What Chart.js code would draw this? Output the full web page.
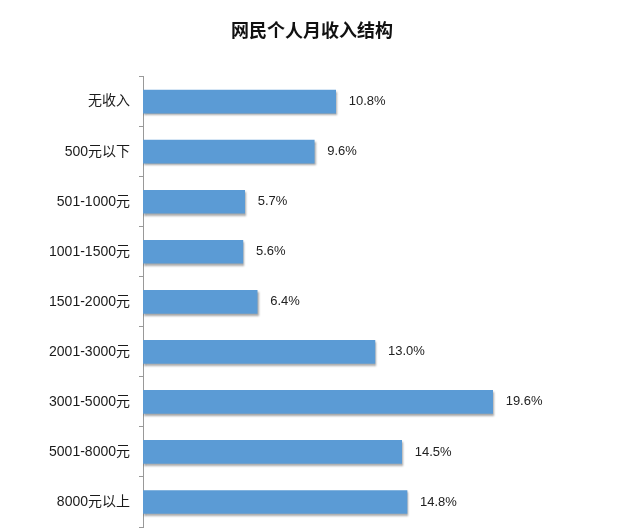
<!DOCTYPE html>
<html>
<head>
<meta charset="utf-8">
<script src="https://cdn.jsdelivr.net/npm/chart.js@4.4.1/dist/chart.umd.min.js"></script>
<style>
    html, body { margin: 0; padding: 0; background: #ffffff; }
    #wrap { width: 640px; height: 530px; position: relative; }
</style>
</head>
<body>
<div id="wrap"><canvas id="incomeChart"></canvas></div>
<script>
// Data
const categories = ['无收入', '500元以下', '501-1000元', '1001-1500元', '1501-2000元',
                    '2001-3000元', '3001-5000元', '5001-8000元', '8000元以上'];
const shares = [10.8, 9.6, 5.7, 5.6, 6.4, 13.0, 19.6, 14.5, 14.8];
const chartTitle = '网民个人月收入结构';

const fontFamily = '"Liberation Sans", Arial, "Noto Sans CJK SC", sans-serif';

// Soft drop shadow under the bars, then the value labels at bar ends
const barDecor = {
    id: 'barDecor',
    beforeDatasetsDraw(chart) {
        const ctx = chart.ctx;
        ctx.save();
        ctx.shadowColor = 'rgba(0, 0, 0, 0.35)';
        ctx.shadowOffsetX = 1;
        ctx.shadowOffsetY = 2;
        ctx.shadowBlur = 2;
    },
    afterDatasetsDraw(chart) {
        const ctx = chart.ctx;
        ctx.restore();
        const meta = chart.getDatasetMeta(0);
        ctx.save();
        ctx.font = '13px ' + fontFamily;
        ctx.fillStyle = '#222222';
        ctx.textAlign = 'left';
        ctx.textBaseline = 'middle';
        meta.data.forEach(function(bar, i) {
            ctx.fillText(shares[i].toFixed(1) + '%', bar.x + 13, bar.y);
        });
        ctx.restore();
    }
};

const ctx = document.getElementById('incomeChart').getContext('2d');
new Chart(ctx, {
    type: 'bar',
    data: {
        labels: categories,
        datasets: [{
            data: shares,
            backgroundColor: '#5b9bd5',
            borderWidth: 0,
            barThickness: 23
        }]
    },
    options: {
        indexAxis: 'y',
        responsive: true,
        maintainAspectRatio: false,
        animation: false,
        layout: {
            padding: { left: 35, right: 51, top: 0, bottom: 3 }
        },
        plugins: {
            legend: { display: false },
            tooltip: { enabled: false },
            title: {
                display: true,
                text: chartTitle,
                color: '#111111',
                font: { family: '"Noto Sans CJK SC", sans-serif', size: 18, weight: 'bold' },
                padding: { top: 19, bottom: 36 }
            }
        },
        scales: {
            x: {
                display: false,
                min: 0,
                max: 25
            },
            y: {
                afterFit: function(scale) {
                    scale.width = 108;
                    scale.paddingTop = 0;
                    scale.paddingBottom = 0;
                },
                border: { display: true, color: '#999999', width: 1 },
                grid: {
                    display: true,
                    drawOnChartArea: false,
                    drawTicks: true,
                    tickLength: 4,
                    color: '#999999',
                    offset: true
                },
                ticks: {
                    color: '#1a1a1a',
                    padding: 9,
                    font: { family: fontFamily, size: 14 }
                }
            }
        }
    },
    plugins: [barDecor]
});
</script>
</body>
</html>
